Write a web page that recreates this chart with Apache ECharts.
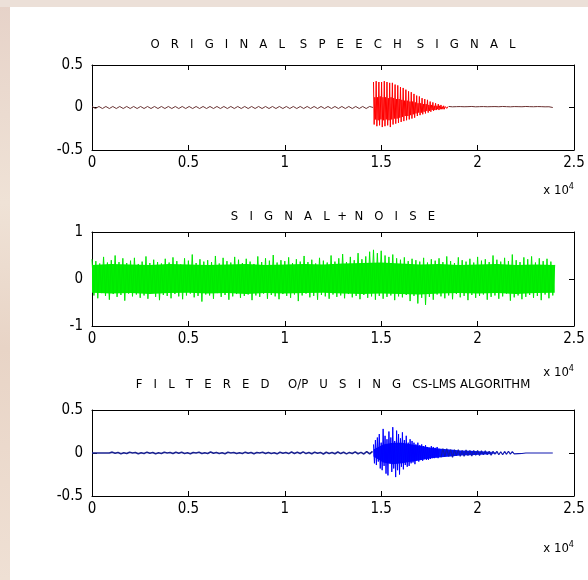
<!DOCTYPE html>
<html>
<head>
<meta charset="utf-8">
<script src="https://cdn.jsdelivr.net/npm/echarts@6/dist/echarts.min.js"></script>
<style>
  html, body { margin: 0; padding: 0; background: #fff; }
  #main { width: 588px; height: 580px; }
</style>
</head>
<body>
<div id="main"></div>
<script>
// axis tick labels (x axis is in samples, shown as x 10^4)
const xTickLabels = ['0', '0.5', '1', '1.5', '2', '2.5'];
const speechTicks = ['-0.5', '0', '0.5'];
const noiseTicks = ['-1', '0', '1'];
const plotTitles = [
  'O   R   I   G   I   N   A   L    S   P   E   E   C   H    S   I   G   N   A   L',
  'S   I   G   N   A   L  +  N   O   I   S   E',
  'F   I   L   T   E   R   E   D     O/P   U   S   I   N   G   CS-LMS ALGORITHM'
];

// original speech: small steady zigzag (step 180 samples from 0)
const speechQuiet = [
  0.012, -0.012, 0.012, -0.012, 0.012, -0.012, 0.012, -0.012, 0.012, -0.012,
  0.012, -0.012, 0.012, -0.012, 0.012, -0.012, 0.012, -0.012, 0.012, -0.012,
  0.012, -0.012, 0.012, -0.012, 0.012, -0.012, 0.012, -0.012, 0.012, -0.012,
  0.012, -0.012, 0.012, -0.012, 0.012, -0.012, 0.012, -0.012, 0.012, -0.012,
  0.012, -0.012, 0.012, -0.012, 0.012, -0.012, 0.012, -0.012, 0.012, -0.012,
  0.012, -0.012, 0.012, -0.012, 0.012, -0.012, 0.012, -0.012, 0.012, -0.012,
  0.012, -0.012, 0.012, -0.012, 0.012, -0.012, 0.012, -0.012, 0.012, -0.012,
  0.012, -0.012, 0.012, -0.012, 0.012, -0.012, 0.012, -0.012, 0.012, -0.012,
  0.012, 0
];
// spoken burst, 4 samples per pitch pulse (step 35 from 14600)
const speechBurst = [
  0.30, -0.20, 0.12, -0.14,  0.31, -0.22, 0.12, -0.15,  0.30, -0.21, 0.13, -0.14,
  0.30, -0.23, 0.12, -0.15,  0.31, -0.22, 0.12, -0.14,  0.30, -0.21, 0.11, -0.15,
  0.29, -0.23, 0.12, -0.14,  0.29, -0.20, 0.11, -0.13,  0.27, -0.19, 0.10, -0.13,
  0.26, -0.18, 0.10, -0.12,  0.24, -0.17, 0.09, -0.11,  0.23, -0.16, 0.08, -0.10,
  0.21, -0.15, 0.08, -0.10,  0.19, -0.14, 0.07, -0.09,  0.18, -0.13, 0.07, -0.08,
  0.16, -0.12, 0.06, -0.07,  0.14, -0.10, 0.05, -0.06,  0.13, -0.09, 0.05, -0.06,
  0.11, -0.08, 0.04, -0.05,  0.10, -0.07, 0.04, -0.04,  0.09, -0.06, 0.03, -0.04,
  0.07, -0.05, 0.03, -0.03,  0.06, -0.04, 0.02, -0.03,  0.05, -0.03, 0.02, -0.02,
  0.04, -0.03, 0.02, -0.02,  0.03, -0.02, 0.01, -0.02,  0.02, -0.02, 0.01, -0.01,
  0.02, -0.01, 0.01, -0.01
];
// trailing low level (step 100 from 18500)
const speechTail = [
  0.012, -0.010, 0.008, -0.012, 0.010, -0.008, 0.011, -0.010, 0.009, -0.011,
  0.010, -0.009, 0.012, -0.010, 0.008, -0.011, 0.010, -0.009, 0.011, -0.010,
  0.009, -0.012, 0.010, -0.008, 0.011, -0.010, 0.009, -0.011, 0.012, -0.009,
  0.010, -0.010, 0.008, -0.012, 0.011, -0.009, 0.010, -0.011, 0.009, -0.010,
  0.012, -0.008, 0.010, -0.011, 0.009, -0.010, 0.011, -0.009, 0.010, -0.012,
  0.008, -0.010, 0.009, -0.006, 0
];

// signal + noise: spikes (step 100 from 0)
const noisy = [
  0.42, -0.35, 0.38, -0.41, 0.33, -0.30, 0.47, -0.36, 0.35, -0.44, 0.40, -0.32, 0.50, -0.38, 0.36, -0.34, 0.44, -0.46, 0.34, -0.31,
  0.39, -0.37, 0.45, -0.33, 0.32, -0.40, 0.37, -0.35, 0.48, -0.42, 0.34, -0.30, 0.41, -0.38, 0.36, -0.45, 0.33, -0.34, 0.43, -0.36,
  0.35, -0.41, 0.46, -0.32, 0.38, -0.37, 0.31, -0.43, 0.44, -0.35, 0.39, -0.31, 0.52, -0.39, 0.34, -0.36, 0.42, -0.48, 0.37, -0.33,
  0.40, -0.35, 0.36, -0.42, 0.49, -0.30, 0.33, -0.38, 0.45, -0.34, 0.38, -0.44, 0.35, -0.37, 0.47, -0.32, 0.41, -0.40, 0.34, -0.36,
  0.43, -0.33, 0.37, -0.45, 0.32, -0.35, 0.48, -0.38, 0.36, -0.31, 0.44, -0.42, 0.39, -0.34, 0.51, -0.37, 0.35, -0.43, 0.40, -0.32,
  0.38, -0.36, 0.46, -0.40, 0.34, -0.33, 0.42, -0.47, 0.37, -0.35, 0.49, -0.31, 0.36, -0.39, 0.41, -0.36, 0.33, -0.44, 0.45, -0.34,
  0.39, -0.37, 0.35, -0.42, 0.50, -0.33, 0.37, -0.38, 0.44, -0.35, 0.53, -0.41, 0.36, -0.32, 0.47, -0.39, 0.40, -0.36, 0.55, -0.43,
  0.42, -0.34, 0.48, -0.40, 0.58, -0.37, 0.62, -0.44, 0.55, -0.36, 0.60, -0.42, 0.50, -0.38, 0.47, -0.35, 0.52, -0.45, 0.44, -0.37,
  0.41, -0.39, 0.46, -0.34, 0.38, -0.47, 0.43, -0.36, 0.40, -0.52, 0.37, -0.40, 0.45, -0.55, 0.35, -0.38, 0.42, -0.44, 0.39, -0.33,
  0.44, -0.37, 0.36, -0.41, 0.48, -0.35, 0.38, -0.43, 0.34, -0.32, 0.46, -0.39, 0.40, -0.36, 0.37, -0.45, 0.43, -0.34, 0.35, -0.40,
  0.47, -0.36, 0.39, -0.33, 0.42, -0.44, 0.36, -0.38, 0.50, -0.35, 0.41, -0.42, 0.37, -0.37, 0.45, -0.31, 0.38, -0.46, 0.52, -0.39,
  0.40, -0.35, 0.36, -0.43, 0.46, -0.38, 0.42, -0.34, 0.48, -0.40, 0.35, -0.36, 0.44, -0.45, 0.38, -0.33, 0.43, -0.41, 0.37, -0.35,
  0.30
];
// solid core of the noisy band (step 1000 from 0)
const noisyCoreHi = [0.30, 0.32, 0.31, 0.30, 0.32, 0.31, 0.30, 0.31, 0.32, 0.30, 0.31, 0.32, 0.31, 0.33, 0.34, 0.35, 0.33, 0.31, 0.32, 0.30, 0.31, 0.32, 0.30, 0.31, 0.30];
const noisyCoreLo = [-0.29, -0.31, -0.30, -0.32, -0.30, -0.29, -0.31, -0.30, -0.32, -0.30, -0.31, -0.30, -0.29, -0.31, -0.32, -0.31, -0.32, -0.33, -0.31, -0.30, -0.31, -0.30, -0.32, -0.30, -0.29];

// filtered output
const filtQuiet = [ // step 150 from 0
  0, 0, 0, 0, 0, 0, 0, 0.010, -0.004, 0.006,
  -0.008, 0.003, -0.006, 0.009, 0, 0.005, -0.009, 0.004, -0.005, 0.010,
  -0.003, 0.007, -0.008, 0.002, -0.006, 0.009, 0, 0.005, -0.007, 0.008,
  -0.004, 0.009, -0.005, 0.003, -0.009, 0.006, 0, 0.008, -0.007, 0.004,
  -0.005, 0.011, -0.004, 0.007, -0.006, 0.004, -0.008, 0.008, 0, 0.006,
  -0.007, 0.004, -0.005, 0.010, -0.004, 0.007, -0.008, 0.005, 0, 0.009,
  -0.006, 0.007, -0.005, 0.004, -0.010, 0.008, -0.004, 0.006, -0.007, 0.011,
  -0.005, 0.008, -0.006, 0.013, -0.007, 0.005, -0.009, 0.010, -0.004, 0.007,
  -0.011, 0.009, -0.005, 0.006, -0.008, 0.012, -0.007, 0.008, -0.010, 0.007,
  -0.006, 0.013, -0.009, 0.007, -0.011, 0.015, -0.010, 0.020
];
const filtBurst = [ // step 50 from 14600
  0.10, -0.12, 0.15, -0.14, 0.18, -0.10, 0.22, -0.18, 0.12, -0.20,
  0.28, -0.15, 0.20, -0.24, 0.16, -0.26, 0.25, -0.12, 0.18, -0.22,
  0.30, -0.18, 0.14, -0.28, 0.26, -0.20, 0.22, -0.25, 0.17, -0.16,
  0.24, -0.19, 0.15, -0.14, 0.20, -0.16, 0.12, -0.15, 0.16, -0.12,
  0.14, -0.11, 0.12, -0.13, 0.10, -0.09, 0.12, -0.10, 0.09, -0.08,
  0.10, -0.09, 0.08, -0.07, 0.09, -0.08, 0.07, -0.08, 0.06, -0.07,
  0.08, -0.06, 0.07, -0.06, 0.06, -0.05, 0.07, -0.06, 0.05
];
const filtTail = [ // step 100 from 18100
  -0.05, 0.05, -0.04, 0.05, -0.04, 0.04, -0.05, 0.04, -0.03, 0.04,
  -0.04, 0.03, -0.04, 0.035, -0.03, 0.03, -0.035, 0.03, -0.025, 0.03,
  -0.03, 0.025, -0.02, 0.025, -0.02, 0.02, -0.025, 0.02, -0.015, 0.02,
  -0.02, 0.015, -0.02, 0.018, -0.015, 0.02, -0.012, 0.015, -0.01, 0.012,
  -0.008, 0.01, -0.006, 0.004, 0, 0, 0, 0, 0, 0,
  0, 0, 0, 0, 0, 0, 0, 0, 0
];
// solid core of the filtered burst (step 500 from 14600)
const filtCoreHi = [0.04, 0.10, 0.12, 0.12, 0.10, 0.08, 0.06, 0.05, 0.04, 0.03, 0.025, 0.02, 0.015, 0.01];
const filtCoreLo = [-0.04, -0.11, -0.13, -0.12, -0.10, -0.08, -0.06, -0.05, -0.04, -0.03, -0.025, -0.02, -0.015, -0.01];

function toPoints(values, start, step) {
  return values.map((v, i) => [start + i * step, v]);
}

var chartDom = document.getElementById('main');
var myChart = echarts.init(chartDom, null, { renderer: 'canvas' });

const font = "'Liberation Sans Narrow', 'DejaVu Sans Condensed', 'Liberation Sans', sans-serif";
const grids = [
  { left: 92, right: 14, top: 65, height: 85 },
  { left: 92, right: 14, top: 232, height: 94 },
  { left: 92, right: 14, top: 410, height: 86 }
];
const yRanges = [[-0.5, 0.5, 0.5, speechTicks], [-1, 1, 1, noiseTicks], [-0.5, 0.5, 0.5, speechTicks]];

var xAxes = [], yAxes = [];
grids.forEach((g, i) => {
  const tick = { show: true, inside: true, length: 5, lineStyle: { color: '#000' } };
  xAxes.push({
    type: 'value', gridIndex: i, min: 0, max: 25000, interval: 5000, position: 'bottom',
    axisLine: { show: true, onZero: false, lineStyle: { color: '#000' } },
    axisTick: tick, splitLine: { show: false },
    axisLabel: { color: '#000', fontFamily: font, fontSize: 15, margin: 6,
      formatter: (v) => xTickLabels[Math.round(v / 5000)] }
  });
  xAxes.push({
    type: 'value', gridIndex: i, min: 0, max: 25000, interval: 5000, position: 'top',
    axisLine: { show: true, onZero: false, lineStyle: { color: '#000' } },
    axisTick: tick, splitLine: { show: false }, axisLabel: { show: false }
  });
  const r = yRanges[i];
  yAxes.push({
    type: 'value', gridIndex: i, min: r[0], max: r[1], interval: r[2], position: 'left',
    axisLine: { show: true, onZero: false, lineStyle: { color: '#000' } },
    axisTick: tick, splitLine: { show: false },
    axisLabel: { color: '#000', fontFamily: font, fontSize: 15, margin: 9,
      formatter: (v) => r[3][Math.round((v - r[0]) / r[2])] }
  });
  yAxes.push({
    type: 'value', gridIndex: i, min: r[0], max: r[1], interval: r[2], position: 'right',
    axisLine: { show: true, onZero: false, lineStyle: { color: '#000' } },
    axisTick: tick, splitLine: { show: false }, axisLabel: { show: false }
  });
});

function line(data, axis, color, width) {
  return {
    type: 'line', data: data, xAxisIndex: axis * 2, yAxisIndex: axis * 2,
    showSymbol: false, symbol: 'none', animation: false, silent: true,
    lineStyle: { color: color, width: width }
  };
}
function band(data, axis, color) {
  return {
    type: 'line', data: data, xAxisIndex: axis * 2, yAxisIndex: axis * 2,
    showSymbol: false, symbol: 'none', animation: false, silent: true,
    lineStyle: { width: 0 }, areaStyle: { color: color, opacity: 1, origin: 0 }
  };
}

const titleY = [45, 217, 385];
const expY = [191, 373, 549];
var graphic = [
  { type: 'rect', left: 0, top: 0, shape: { width: 10, height: 580 }, silent: true,
    style: { fill: new echarts.graphic.LinearGradient(0, 0, 0, 1, [
      { offset: 0, color: '#e6d2c8' }, { offset: 0.35, color: '#efe2d6' },
      { offset: 0.6, color: '#e8d4c6' }, { offset: 1, color: '#efe0d4' }]) } },
  { type: 'rect', left: 0, top: 0, shape: { width: 588, height: 7 }, silent: true,
    style: { fill: '#ece0d8' } }
];
plotTitles.forEach((t, i) => {
  graphic.push({ type: 'text', x: 333, y: titleY[i], silent: true,
    style: { text: t, fill: '#000', font: '13px ' + font, align: 'center', verticalAlign: 'middle' } });
});
expY.forEach((y) => {
  graphic.push({ type: 'text', x: 574, y: y, silent: true,
    style: { text: '{a|x 10}{s|4}', align: 'right', verticalAlign: 'middle',
      rich: { a: { fontFamily: font, fontSize: 13, fill: '#000', color: '#000' },
              s: { fontFamily: font, fontSize: 9, color: '#000', verticalAlign: 'top', padding: [0, 0, 8, 0] } } } });
});

var option = {
  backgroundColor: '#fff',
  animation: false,
  grid: grids.map((g) => Object.assign({ show: true, backgroundColor: '#fff', borderWidth: 0 }, g)),
  xAxis: xAxes,
  yAxis: yAxes,
  graphic: graphic,
  series: [
    line(toPoints(speechQuiet, 0, 180), 0, '#6a3434', 1),
    line(toPoints(speechBurst, 14600, 35), 0, '#ff0000', 1),
    line(toPoints(speechTail, 18500, 100), 0, '#6a3030', 1),
    band(toPoints(noisyCoreHi, 0, 1000), 1, '#00f000'),
    band(toPoints(noisyCoreLo, 0, 1000), 1, '#00f000'),
    line(toPoints(noisy, 0, 100), 1, '#00e800', 1),
    line(toPoints(filtQuiet, 0, 150), 2, '#1a2290', 1.6),
    band(toPoints(filtCoreHi, 14600, 500), 2, '#0010ff'),
    band(toPoints(filtCoreLo, 14600, 500), 2, '#0010ff'),
    line(toPoints(filtBurst, 14600, 50), 2, '#0000ff', 1),
    line(toPoints(filtTail, 18100, 100), 2, '#1018b0', 1.2)
  ]
};

option && myChart.setOption(option);
</script>
</body>
</html>
